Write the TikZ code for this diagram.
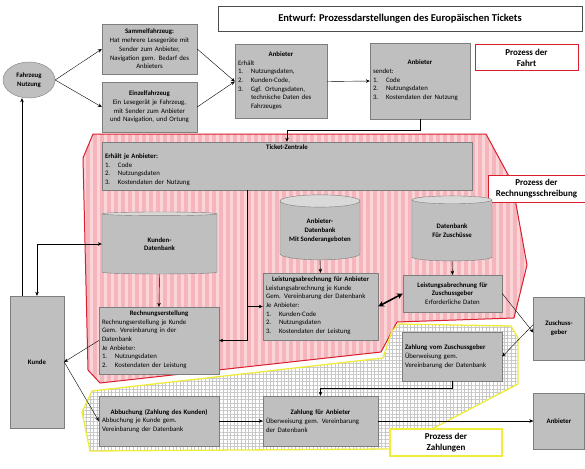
\documentclass[tikz,border=0pt]{standalone}
\usepackage{fontspec}
\setmainfont{Carlito}
\usetikzlibrary{shapes.geometric,arrows.meta,patterns.meta}

\definecolor{boxgray}{RGB}{191,191,191}
\definecolor{boxline}{RGB}{125,125,125}
\definecolor{cylend}{RGB}{217,217,217}
\definecolor{rechred}{RGB}{218,30,45}
\definecolor{rechfill}{RGB}{244,182,188}
\definecolor{rechstripe}{RGB}{250,212,215}
\definecolor{zahlyellow}{RGB}{240,236,60}
\definecolor{zahlgrid}{RGB}{200,200,200}

\newcommand{\boxhead}[1]{\hfill\textbf{#1}\hfill\null\\}
\newcommand{\litem}[2]{\par\noindent\hbox to 13pt{#1.\hfil}\begin{tabular}[t]{@{}l@{}}#2\end{tabular}}

\begin{document}
\begin{tikzpicture}[x=1pt, y=-1pt, >={Stealth[length=4pt,width=3.5pt]},
	box/.style={draw=boxline, fill=boxgray, inner sep=0pt, inner xsep=3pt, align=left,
		font=\fontsize{6.8}{8.7}\selectfont, execute at begin node={\parindent=0pt}},
	cbox/.style={box, align=center},
	dbase/.style={cylinder, shape border rotate=90, draw=boxline, cylinder uses custom fill,
		cylinder body fill=boxgray, cylinder end fill=cylend, inner sep=0pt, align=center,
		font=\fontsize{6.8}{8.7}\selectfont\bfseries},
	proc/.style={draw=rechred, line width=1pt, fill=white, align=center, inner sep=0pt,
		font=\fontsize{9}{11}\selectfont\bfseries}]
	\useasboundingbox (0,0) rectangle (585,468);

	\draw[draw=rechred, line width=1pt, preaction={fill=rechfill},
		pattern={Lines[angle=90,distance=7pt,line width=3pt]}, pattern color=rechstripe]
		(93,134) -- (486,134) -- (512,182) -- (527,265) -- (514,318) -- (397,322) -- (381,352)
		-- (100,383) -- (88,370) -- (83,158) -- cycle;
	\draw[draw=zahlyellow, line width=1.3pt, preaction={fill=white},
		pattern={Hatch[angle=0,distance=3.6pt,line width=0.3pt]}, pattern color=zahlgrid]
		(399,324) -- (511,326) -- (518,338) -- (518,384) -- (430,430) -- (390,449) -- (90,451)
		-- (82,412) -- (92,391) -- (383,358) -- (392,331) -- cycle;

	\node[draw=black!70, fill=white, minimum width=364pt, minimum height=25pt,
		font=\fontsize{10.5}{12}\selectfont\bfseries] (title) at (400,19)
		{Entwurf: Prozessdarstellungen des Europäischen Tickets};

	\node[ellipse, draw=boxline, fill=boxgray, minimum width=52pt, minimum height=36pt, inner sep=0pt,
		align=center, font=\fontsize{6.8}{8.7}\selectfont\bfseries] (fz) at (29,80) {Fahrzeug\\Nutzung};
	\node[cbox, text width=89pt, minimum height=50pt] (sammel) at (149.5,49)
		{\textbf{Sammelfahrzeug:}\\Hat mehrere Lesegeräte mit\\Sender zum Anbieter,\\Navigation gem. Bedarf des\\Anbieters};
	\node[cbox, text width=89pt, minimum height=50pt] (einzel) at (149.5,107)
		{\textbf{Einzelfahrzeug}\\Ein Lesegerät je Fahrzeug,\\mit Sender zum Anbieter\\und Navigation, und Ortung};
	\node[box, text width=86pt, minimum height=74pt] (anb1) at (281,81.5)
		{\boxhead{Anbieter}Erhält
		\litem{1}{Nutzungsdaten,}
		\litem{2}{Kunden-Code,}
		\litem{3}{Ggf. Ortungsdaten,\\technische Daten des\\Fahrzeuges}};
	\node[box, text width=94pt, minimum height=76pt] (anb2) at (420,81)
		{\boxhead{Anbieter}sendet:
		\litem{1}{Code}
		\litem{2}{Nutzungsdaten}
		\litem{3}{Kostendaten der Nutzung}};
	\node[proc, minimum width=103pt, minimum height=26pt] (fahrt) at (526.5,58) {Prozess der\\Fahrt};

	\node[box, text width=364pt, minimum height=48pt] (ticket) at (287,166)
		{\boxhead{Ticket-Zentrale}\textbf{Erhält je Anbieter:}
		\litem{1}{Code}
		\litem{2}{Nutzungsdaten}
		\litem{3}{Kostendaten der Nutzung}};
	\node[proc, minimum width=97pt, minimum height=27pt] (rsch) at (536.5,188.5) {Prozess der\\Rechnungsschreibung};

	\node[dbase, minimum width=115pt, minimum height=62pt, aspect=0.12] (kdb) at (159.5,244) {Kunden-\\Datenbank};
	\node[dbase, minimum width=80pt, minimum height=65pt, aspect=0.2] (adb) at (320,230.5) {Anbieter-\\Datenbank\\Mit Sonderangeboten};
	\node[dbase, minimum width=80pt, minimum height=65pt, aspect=0.2] (zdb) at (452,230.5) {Datenbank\\Für Zuschüsse};

	\node[box, text width=109pt, minimum height=67pt] (laa) at (320.5,306.5)
		{\boxhead{Leistungsabrechnung für Anbieter}Leistungsabrechnung je Kunde\\Gem. Vereinbarung der Datenbank\\Je Anbieter:
		\litem{1}{Kunden-Code}
		\litem{2}{Nutzungsdaten}
		\litem{3}{Kostendaten der Leistung}};
	\node[cbox, text width=93pt, minimum height=37pt] (laz) at (452.5,293.5)
		{\textbf{Leistungsabrechnung für}\\\textbf{Zuschussgeber}\\Erforderliche Daten};
	\node[box, text width=114pt, minimum height=67pt] (rech) at (159,340.5)
		{\boxhead{Rechnungserstellung}Rechnungserstellung je Kunde\\Gem. Vereinbarung in der\\Datenbank\\Je Anbieter:
		\litem{1}{Nutzungsdaten}
		\litem{2}{Kostendaten der Leistung}};

	\node[cbox, text width=48pt, minimum height=132pt, font=\fontsize{6.8}{8.7}\selectfont\bfseries] (kunde) at (37,362) {Kunde};
	\node[cbox, text width=45pt, minimum height=63pt, font=\fontsize{6.8}{8.7}\selectfont\bfseries] (zg) at (559,328.5) {Zuschuss-\\geber};
	\node[box, text width=94pt, minimum height=49pt] (zz) at (452,356.5)
		{\textbf{Zahlung vom Zuschussgeber}\\Überweisung gem.\\Vereinbarung der Datenbank};
	\node[box, text width=114pt, minimum height=50pt] (abb) at (159,421)
		{\boxhead{Abbuchung (Zahlung des Kunden)}Abbuchung je Kunde gem.\\Vereinbarung der Datenbank};
	\node[box, text width=109pt, minimum height=50pt] (zanb) at (320.5,421)
		{\boxhead{Zahlung für Anbieter}Überweisung gem. Vereinbarung\\der Datenbank};
	\node[cbox, text width=45pt, minimum height=56pt, font=\fontsize{6.8}{8.7}\selectfont\bfseries] (anb3) at (559,421) {Anbieter};
	\node[proc, draw=zahlyellow, line width=1.3pt, minimum width=112pt, minimum height=27pt] (zahl) at (446,442.5) {Prozess der\\Zahlungen};

	\path[->]
	(fz.east) edge (sammel.west)
	(fz.east) edge (einzel.west)
	(sammel.east) edge (anb1.west)
	(einzel.east) edge (anb1.west)
	(anb1.east) edge (anb2.west)
	(kdb.south) edge (rech.north)
	(adb.south) edge (laa.north)
	(zdb.south) edge (laz.north)
	(laz.east) edge ([yshift=-4pt]zg.west)
	([yshift=4pt]zg.west) edge (zz.east)
	(abb.east) edge (zanb.west)
	(zanb.east) edge (anb3.west)
	(rech.west) edge (kunde.east)
	(kunde.east) edge (abb.west)
	([xshift=-15pt]kunde.north) edge ([xshift=-7pt]fz.south);
	\path[<->, line width=1.6pt, >={Stealth[length=6pt,width=6pt]}]
	(laa.east) edge (laz.west);

	\coordinate (tz) at ([xshift=-40pt]ticket.south);
	\draw[->] (anb2.south) -- ++(0,11) -| (ticket.north);
	\draw[->] (tz) |- (rech.east);
	\draw[->] (tz |- laa.west) -- (laa.west);
	\draw[<->] (kunde.north) |- (kdb.west);
	\draw[->] (zz.south) -- ++(0,7) -| (zanb.north);
\end{tikzpicture}
\end{document}
